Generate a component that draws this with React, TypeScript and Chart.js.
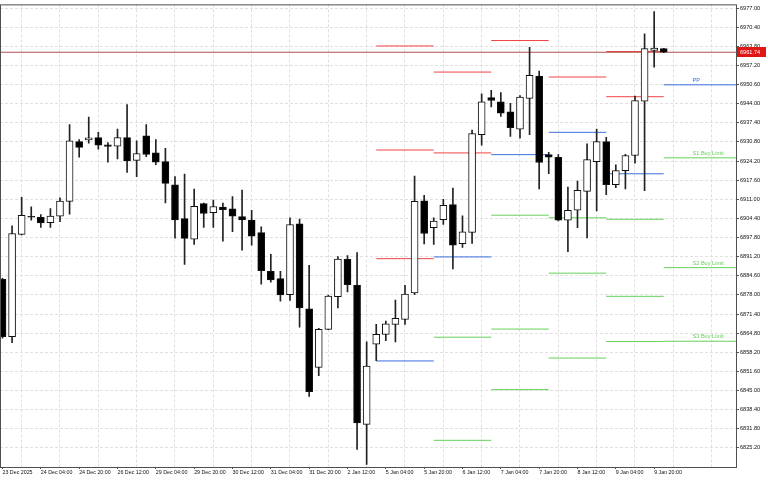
import React, { useEffect, useRef } from "react";
import { Chart, registerables } from "chart.js";

Chart.register(...registerables);

// ---- candle data (H4 bars, 23 Dec 2025 12:00 .. ) ----
const opens = [
  6883.4, 6863.6, 6898.9, 6905.0, 6904.8, 6902.9, 6905.2, 6910.3, 6930.9, 6931.5,
  6932.3, 6929.8, 6929.3, 6932.3, 6924.4, 6932.9, 6927.0, 6924.0, 6916.0, 6904.3,
  6897.2, 6909.5, 6906.4, 6908.3, 6907.7, 6905.0, 6903.8, 6899.5, 6886.1, 6883.6,
  6878.1, 6902.5, 6873.2, 6853.0, 6866.1, 6877.4, 6890.3, 6881.3, 6833.3, 6861.0,
  6864.4, 6867.8, 6869.5, 6878.7, 6910.5, 6901.2, 6904.0, 6909.2, 6895.7, 6899.6,
  6933.3, 6946.1, 6944.6, 6941.2, 6935.2, 6945.8, 6953.5, 6926.4, 6925.5, 6903.8,
  6907.2, 6913.7, 6924.0, 6930.9, 6916.0, 6920.9, 6926.1, 6944.9, 6962.4, 6963.0,
];
const highs = [
  6883.7, 6901.8, 6911.7, 6908.4, 6905.7, 6907.8, 6911.5, 6936.8, 6931.6, 6939.4,
  6934.1, 6930.6, 6935.2, 6943.7, 6931.2, 6936.8, 6931.6, 6928.6, 6918.8, 6919.7,
  6914.5, 6909.7, 6910.7, 6909.7, 6911.9, 6914.2, 6907.2, 6901.5, 6892.0, 6886.1,
  6904.6, 6904.2, 6888.2, 6866.5, 6877.9, 6891.2, 6891.6, 6892.6, 6861.8, 6867.8,
  6869.0, 6876.2, 6881.3, 6919.0, 6912.4, 6904.6, 6911.0, 6914.9, 6905.3, 6934.9,
  6947.4, 6948.6, 6947.8, 6944.1, 6946.8, 6963.4, 6955.2, 6927.2, 6926.4, 6915.2,
  6917.3, 6930.1, 6935.2, 6932.4, 6922.9, 6926.5, 6946.6, 6968.1, 6975.8, 6963.1,
];
const lows = [
  6863.1, 6861.5, 6898.7, 6903.8, 6901.3, 6901.3, 6903.3, 6905.9, 6925.5, 6930.4,
  6928.3, 6923.8, 6924.9, 6920.3, 6918.8, 6925.7, 6922.9, 6909.7, 6897.6, 6888.5,
  6895.4, 6901.3, 6901.3, 6896.5, 6899.8, 6893.4, 6895.2, 6881.7, 6882.4, 6875.8,
  6876.1, 6866.9, 6843.0, 6850.1, 6866.0, 6873.5, 6879.0, 6824.7, 6819.5, 6855.3,
  6862.2, 6861.8, 6867.8, 6878.1, 6895.6, 6895.4, 6902.3, 6887.0, 6894.4, 6895.8,
  6929.7, 6942.9, 6939.6, 6932.7, 6932.1, 6933.3, 6914.6, 6919.8, 6903.5, 6892.9,
  6901.2, 6897.7, 6907.0, 6912.6, 6915.0, 6914.6, 6923.5, 6914.0, 6956.6, 6961.6,
];
const closes = [
  6863.6, 6899.2, 6905.5, 6904.8, 6902.8, 6905.2, 6910.4, 6931.2, 6928.9, 6932.2,
  6929.7, 6929.2, 6932.3, 6924.2, 6926.8, 6926.5, 6923.8, 6916.5, 6903.9, 6897.5,
  6908.6, 6906.1, 6908.5, 6907.4, 6905.2, 6903.9, 6898.3, 6886.4, 6883.2, 6878.0,
  6902.3, 6873.5, 6844.6, 6866.1, 6877.6, 6890.4, 6881.5, 6833.8, 6853.4, 6864.4,
  6868.0, 6869.9, 6878.3, 6910.3, 6899.2, 6903.5, 6908.9, 6895.2, 6899.8, 6933.7,
  6944.6, 6945.1, 6940.7, 6935.7, 6946.3, 6953.8, 6923.7, 6925.5, 6903.8, 6907.2,
  6914.1, 6924.7, 6930.9, 6916.0, 6920.9, 6926.1, 6945.1, 6963.0, 6963.2, 6961.74,
];

// ---- axis labels ----
const xTickLabels = [
  "23 Dec 2025", "24 Dec 04:00", "24 Dec 20:00", "26 Dec 12:00", "29 Dec 04:00",
  "29 Dec 20:00", "30 Dec 12:00", "31 Dec 04:00", "31 Dec 20:00", "2 Jan 12:00",
  "5 Jan 04:00", "5 Jan 20:00", "6 Jan 12:00", "7 Jan 04:00", "7 Jan 20:00",
  "8 Jan 12:00", "9 Jan 04:00", "9 Jan 20:00",
];
const yTickValues = [
  6825.2, 6831.8, 6838.4, 6845.0, 6851.6, 6858.2, 6864.8, 6871.4, 6878.0, 6884.6,
  6891.2, 6897.8, 6904.4, 6911.0, 6917.6, 6924.2, 6930.8, 6937.4, 6944.0, 6950.6,
  6957.2, 6963.8, 6970.4, 6977.0,
];

// ---- daily pivot levels (one entry per day segment) ----
const dayStartBar = [39, 45, 51, 57, 63, 69];
const levelR3 = [6963.9, null, null, null, null, null];
const levelR2 = [6928.0, 6954.9, null, null, 6962.0, null];
const levelR1 = [6890.5, 6927.0, 6965.8, 6953.2, 6946.4, null];
const levelPP = [6855.2, 6891.1, 6926.4, 6934.1, 6919.8, 6950.5];
const levelS1 = [null, 6863.4, 6905.5, 6904.6, 6904.1, 6925.3];
const levelS2 = [null, 6827.8, 6866.2, 6885.5, 6877.5, 6887.4];
const levelS3 = [null, null, 6845.3, 6856.2, 6861.9, 6862.0];
const finalLevelNames = ["PP", "S1 Buy Limit", "S2 Buy Limit", "S3 Buy Limit"];
const lastPrice = 6961.74;

// ---- view ----
const X_MIN = -0.26;
const X_MAX = 76.54;
const Y_MIN = 6818.6;
const Y_MAX = 6978.27;
const LABEL_BAR = 72;

const RED = "#f04444";
const BLUE = "#3b6fe0";
const GREEN = "#66d05a";
const FONT = "'Liberation Sans', Arial, sans-serif";

export default function App() {
  const ref = useRef<HTMLCanvasElement>(null);

  useEffect(() => {
    if (!ref.current) return;
    const idx = opens.map((_, i) => i);
    const dayEnd = dayStartBar.map((s, d) => (d < dayStartBar.length - 1 ? dayStartBar[d + 1] : X_MAX));

    const lineDs: any[] = [];
    const addLevels = (vals: (number | null)[], color: string) => {
      vals.forEach((v, d) => {
        if (v == null) return;
        lineDs.push({
          type: "line",
          data: [
            { x: dayStartBar[d], y: v },
            { x: dayEnd[d], y: v },
          ],
          borderColor: color,
          borderWidth: 1,
          pointRadius: 0,
          order: 10,
        });
      });
    };
    addLevels(levelR3, RED);
    addLevels(levelR2, RED);
    addLevels(levelR1, RED);
    addLevels(levelPP, BLUE);
    addLevels(levelS1, GREEN);
    addLevels(levelS2, GREEN);
    addLevels(levelS3, GREEN);

    const bidLine = {
      type: "line",
      data: [
        { x: X_MIN, y: lastPrice },
        { x: X_MAX, y: lastPrice },
      ],
      borderColor: "#b05050",
      borderWidth: 1,
      pointRadius: 0,
      order: 9,
    };

    const wicks = {
      type: "bar",
      data: idx.map((i) => ({ x: i, y: [lows[i], highs[i]] })),
      backgroundColor: "#222",
      barThickness: 1,
      grouped: false,
      order: 5,
    };
    const bodies = {
      type: "bar",
      data: idx.map((i) => ({ x: i, y: [opens[i], closes[i]] })),
      backgroundColor: idx.map((i) => (closes[i] >= opens[i] ? "#ffffff" : "#000000")),
      borderColor: "#111",
      borderWidth: 1,
      borderSkipped: false,
      barThickness: 7,
      minBarLength: 1,
      grouped: false,
      order: 4,
    };

    const framePlugin = {
      id: "frame",
      afterDraw(chart: any) {
        const { ctx, chartArea: a } = chart;
        ctx.save();
        ctx.strokeStyle = "#505050";
        ctx.lineWidth = 1;
        ctx.strokeRect(a.left + 0.5, a.top + 0.5, a.right - a.left, a.bottom - a.top);
        ctx.restore();
      },
    };

    const labelPlugin = {
      id: "levelLabels",
      afterDatasetsDraw(chart: any) {
        const { ctx } = chart;
        const xs = chart.scales.x;
        const ys = chart.scales.y;
        const last = dayStartBar.length - 1;
        const vals = [levelPP[last], levelS1[last], levelS2[last], levelS3[last]];
        const cols = [BLUE, GREEN, GREEN, GREEN];
        ctx.save();
        ctx.font = `5.6px ${FONT}`;
        ctx.textAlign = "left";
        ctx.textBaseline = "middle";
        vals.forEach((v, k) => {
          if (v == null) return;
          ctx.fillStyle = cols[k];
          ctx.fillText(finalLevelNames[k], xs.getPixelForValue(LABEL_BAR), ys.getPixelForValue(v) - 4.5);
        });
        ctx.restore();
      },
    };

    const priceTagPlugin = {
      id: "priceTag",
      afterDraw(chart: any) {
        const { ctx, chartArea: a } = chart;
        const y = chart.scales.y.getPixelForValue(lastPrice);
        ctx.save();
        ctx.fillStyle = "#e01515";
        ctx.fillRect(a.right + 1, Math.round(y) - 5, 29, 10);
        ctx.fillStyle = "#ffffff";
        ctx.font = `5.6px ${FONT}`;
        ctx.textAlign = "left";
        ctx.textBaseline = "middle";
        ctx.fillText(lastPrice.toFixed(2), a.right + 4, Math.round(y));
        ctx.restore();
      },
    };

    const chart = new Chart(ref.current, {
      type: "bar",
      data: { datasets: [...lineDs, bidLine, wicks, bodies] as any },
      options: {
        animation: false,
        responsive: true,
        maintainAspectRatio: false,
        layout: { padding: { left: 0, top: 1, right: 0, bottom: 0 } },
        plugins: { legend: { display: false }, tooltip: { enabled: false } },
        scales: {
          x: {
            type: "linear",
            min: X_MIN,
            max: X_MAX,
            offset: false,
            afterBuildTicks: (scale: any) => {
              const t: any[] = [];
              for (let v = 0; v <= 76; v += 2) t.push({ value: v });
              scale.ticks = t;
            },
            afterFit: (scale: any) => {
              scale.height = 13;
            },
            grid: {
              offset: false,
              drawOnChartArea: true,
              color: (ctx: any) => (ctx.tick && ctx.tick.value % 4 === 2 ? "#e0e0e0" : "rgba(0,0,0,0)"),
              tickColor: (ctx: any) => (ctx.tick && ctx.tick.value % 4 === 0 && ctx.tick.value / 4 < xTickLabels.length ? "#555" : "rgba(0,0,0,0)"),
              tickLength: 2,
              lineWidth: 1,
            },
            border: { display: false, dash: [3, 2] },
            ticks: {
              autoSkip: false,
              maxRotation: 0,
              minRotation: 0,
              align: "start",
              padding: 0,
              color: "#111",
              font: { family: FONT, size: 5.3 },
              callback: (value: any) => {
                const v = Number(value);
                return v % 4 === 0 && v / 4 < xTickLabels.length ? xTickLabels[v / 4] : "";
              },
            },
          },
          y: {
            type: "linear",
            position: "right",
            min: Y_MIN,
            max: Y_MAX,
            beginAtZero: false,
            afterBuildTicks: (scale: any) => {
              scale.ticks = yTickValues.map((v) => ({ value: v }));
            },
            afterFit: (scale: any) => {
              scale.width = 32;
            },
            grid: {
              color: "#e0e0e0",
              tickColor: "#555",
              tickLength: 3,
              lineWidth: 1,
            },
            border: { display: false, dash: [3, 2] },
            ticks: {
              autoSkip: false,
              padding: 1,
              color: "#111",
              font: { family: FONT, size: 5.6 },
              callback: (value: any) => Number(value).toFixed(2),
            },
          },
        },
      } as any,
      plugins: [framePlugin, labelPlugin, priceTagPlugin],
    });

    return () => chart.destroy();
  }, []);

  return (
    <div style={{ position: "fixed", left: 0, top: 0, width: 768, height: 480, background: "#ffffff" }}>
      <canvas ref={ref} />
    </div>
  );
}
